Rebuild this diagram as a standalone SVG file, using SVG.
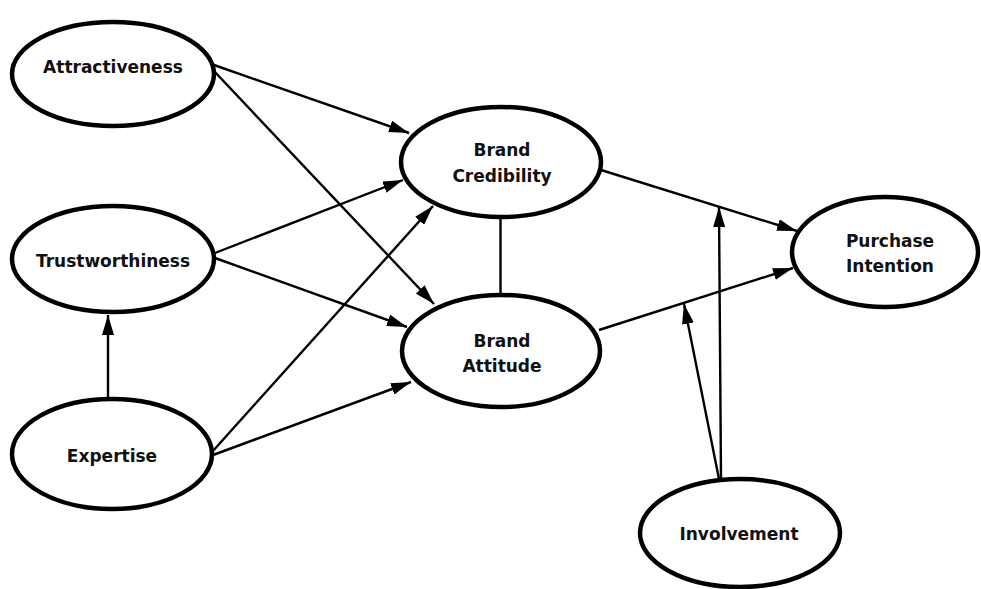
<svg xmlns="http://www.w3.org/2000/svg" width="981" height="589" viewBox="0 0 981 589">
<style>
.node ellipse{fill:#fff;stroke:#000;stroke-width:4.5}
.node text{font-family:"DejaVu Sans","Liberation Sans",sans-serif;font-weight:bold;font-size:17px;fill:#111;text-anchor:middle}
.edges line{stroke:#000;stroke-width:2.4}
.arrow line{marker-end:url(#arr)}
</style>
<defs>
<marker id="arr" markerUnits="userSpaceOnUse" markerWidth="22" markerHeight="12" refX="20" refY="6" orient="auto">
<path d="M0,0 L20,6 L0,12 z" fill="#000"/>
</marker>
</defs>
<rect width="981" height="589" fill="#fff"/>
<g id="n-attractiveness" class="node"><ellipse cx="113" cy="74" rx="101" ry="52"/><text x="113" y="73">Attractiveness</text></g>
<g id="n-trustworthiness" class="node"><ellipse cx="113" cy="259" rx="101" ry="53"/><text x="113" y="267">Trustworthiness</text></g>
<g id="n-expertise" class="node"><ellipse cx="112" cy="454" rx="100" ry="55"/><text x="112" y="462">Expertise</text></g>
<g id="n-credibility" class="node"><ellipse cx="501" cy="162" rx="100" ry="55"/><text x="502" y="156">Brand</text><text x="502" y="182">Credibility</text></g>
<g id="n-attitude" class="node"><ellipse cx="501" cy="351" rx="99" ry="56"/><text x="502" y="347">Brand</text><text x="502" y="372">Attitude</text></g>
<g id="n-purchase" class="node"><ellipse cx="885" cy="252" rx="93" ry="55"/><text x="890" y="247">Purchase</text><text x="890" y="272">Intention</text></g>
<g id="n-involvement" class="node"><ellipse cx="740" cy="533" rx="100" ry="54"/><text x="739" y="540">Involvement</text></g>
<g id="connectors" class="edges">
<g class="arrow">
<line x1="214" y1="65" x2="409" y2="133"/>
<line x1="213" y1="70" x2="434" y2="304"/>
<line x1="215" y1="253" x2="403" y2="180"/>
<line x1="215" y1="258" x2="407" y2="327"/>
<line x1="212" y1="452" x2="433" y2="206"/>
<line x1="213" y1="455" x2="411" y2="382"/>
<line x1="108" y1="398" x2="108" y2="315"/>
<line x1="601" y1="170" x2="797" y2="231"/>
<line x1="599" y1="330" x2="793" y2="268"/>
<line x1="721" y1="479" x2="719" y2="207"/>
<line x1="719" y1="479" x2="684" y2="304"/>
</g>
<line x1="500.5" y1="218" x2="500.5" y2="295"/>
</g>
</svg>
